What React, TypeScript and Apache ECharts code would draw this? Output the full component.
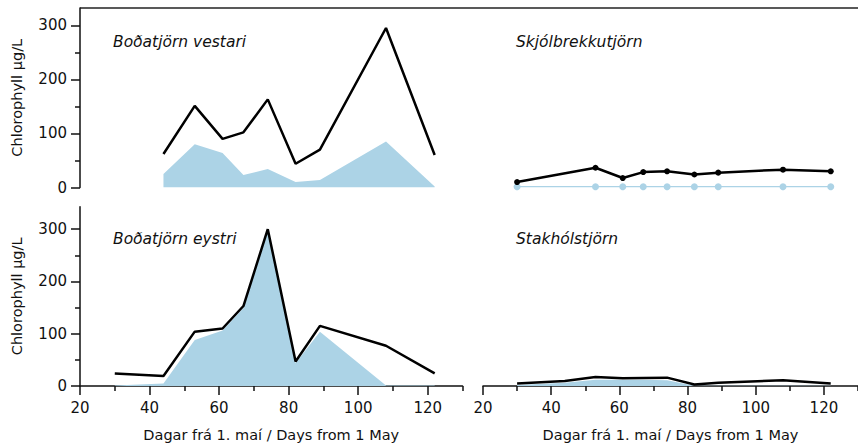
import React, { useEffect, useRef } from "react";
import * as echarts from "echarts";

// Sampling days (days from 1 May)
const allDays = [30, 44, 53, 61, 67, 74, 82, 89, 108, 122];
const vestariDays = [44, 53, 61, 67, 74, 82, 89, 108, 122];
const skjolDays = [30, 53, 61, 67, 74, 82, 89, 108, 122];

// Boðatjörn vestari
const vestariTotal = [62, 151, 90, 102, 163, 44, 70, 295, 60];
const vestariBlue = [25, 80, 64, 23, 34, 10, 14, 85, 2];
// Skjólbrekkutjörn
const skjolTotal = [10, 36.5, 17.5, 28.5, 30, 24, 27.5, 33, 30];
const skjolBlue = [1.5, 1.5, 1.5, 1.5, 1.5, 1.5, 1.5, 1.5, 1.5];
// Boðatjörn eystri
const eystriTotal = [24, 19, 104, 110, 153, 300, 47, 115, 77, 24];
const eystriBlue = [1, 5, 88, 106, 149, 296, 44, 104, 1, 1];
// Stakhólstjörn
const stakTotal = [5, 9.5, 17, 15, 15.5, 16, 3, 6, 11, 5];
const stakBlue = [2, 6, 12, 12, 12, 11, 0.5, 0.5, 0.5, 0.5];

const xMajorTicks = [20, 40, 60, 80, 100, 120];
const xMinorTicks = [30, 50, 70, 90, 110, 130];
const yMajorTicks = [0, 100, 200, 300];
const yMinorTicks = [50, 150, 250];

const titles = ["Boðatjörn vestari", "Skjólbrekkutjörn", "Boðatjörn eystri", "Stakhólstjörn"];
const yName = "Chlorophyll µg/L";
const xName = "Dagar frá 1. maí / Days from 1 May";

const FONT = "DejaVu Sans";
const BLUE = "#acd3e6";
const INK = "#111";

const zip = (xs: number[], ys: number[]) => xs.map((x, i) => [x, ys[i]]);

export default function App() {
  const ref = useRef<HTMLDivElement>(null);
  useEffect(() => {
    if (!ref.current) return;
    const chart = echarts.init(ref.current, null, { renderer: "svg" });

    const grids = [
      { left: 80, top: 8, width: 382.5, height: 179.5 },
      { left: 483, top: 8, width: 382.5, height: 179.5 },
      { left: 80, top: 206.7, width: 382.5, height: 179.3 },
      { left: 483, top: 206.7, width: 382.5, height: 179.3 },
    ];

    const hiddenX = (g: number) => ({
      gridIndex: g, type: "value", min: 20, max: 130, show: false,
    });
    const majorX = (g: number) => ({
      gridIndex: g, type: "value", min: 20, max: 130, position: "bottom",
      axisLine: { show: true, onZero: false, lineStyle: { color: INK, width: 1.5 } },
      axisTick: { show: true, customValues: xMajorTicks, length: 9, lineStyle: { color: INK, width: 1.5 } },
      axisLabel: { show: true, customValues: xMajorTicks, margin: 14, fontSize: 15, fontFamily: FONT, color: INK },
      splitLine: { show: false },
      name: xName, nameLocation: "middle", nameGap: 41,
      nameTextStyle: { fontSize: 14.5, fontFamily: FONT, color: INK },
    });
    const minorX = (g: number) => ({
      gridIndex: g, type: "value", min: 20, max: 130, position: "bottom",
      axisLine: { show: false },
      axisTick: { show: true, customValues: xMinorTicks, length: 5, lineStyle: { color: INK, width: 1.5 } },
      axisLabel: { show: false },
      splitLine: { show: false },
    });
    const majorY = (g: number, max: number) => ({
      gridIndex: g, type: "value", min: 0, max, position: "left",
      axisLine: { show: true, onZero: false, lineStyle: { color: INK, width: 1.5 } },
      axisTick: { show: true, customValues: yMajorTicks, length: 9, lineStyle: { color: INK, width: 1.5 } },
      axisLabel: { show: true, customValues: yMajorTicks, margin: 13, fontSize: 15, fontFamily: FONT, color: INK },
      splitLine: { show: false },
      name: yName, nameLocation: "middle", nameGap: 56,
      nameTextStyle: { fontSize: 14.5, fontFamily: FONT, color: INK },
    });
    const minorY = (g: number, max: number) => ({
      gridIndex: g, type: "value", min: 0, max, position: "left",
      axisLine: { show: false },
      axisTick: { show: true, customValues: yMinorTicks, length: 5, lineStyle: { color: INK, width: 1.5 } },
      axisLabel: { show: false },
      splitLine: { show: false },
    });
    const hiddenY = (g: number, max: number) => ({
      gridIndex: g, type: "value", min: 0, max, show: false, splitLine: { show: false },
    });

    const area = (idx: number, data: number[][]) => ({
      type: "line", xAxisIndex: idx, yAxisIndex: idx, data,
      symbol: "none", lineStyle: { width: 0, color: BLUE },
      areaStyle: { color: BLUE, opacity: 1 }, z: 1,
    });
    const blackLine = (idx: number, data: number[][], dots = false) => ({
      type: "line", xAxisIndex: idx, yAxisIndex: idx, data,
      symbol: dots ? "circle" : "none", symbolSize: 6, showSymbol: dots,
      itemStyle: { color: "#000" },
      lineStyle: { width: 2.5, color: "#000" }, z: 3,
    });

    const titleStyle = { fontStyle: "italic", fontWeight: "normal", fontSize: 15.5, fontFamily: FONT, color: INK };

    chart.setOption({
      animation: false,
      grid: grids,
      title: [
        { text: titles[0], left: 113, top: 34, padding: 0, textStyle: titleStyle },
        { text: titles[1], left: 516, top: 34, padding: 0, textStyle: titleStyle },
        { text: titles[2], left: 113, top: 231, padding: 0, textStyle: titleStyle },
        { text: titles[3], left: 516, top: 231, padding: 0, textStyle: titleStyle },
      ],
      xAxis: [hiddenX(0), hiddenX(1), majorX(2), majorX(3), minorX(2), minorX(3)],
      yAxis: [
        majorY(0, 332), hiddenY(1, 332), majorY(2, 343), hiddenY(3, 343),
        minorY(0, 332), minorY(2, 343),
      ],
      graphic: [
        { type: "line", shape: { x1: 80, y1: 8, x2: 858, y2: 8 }, style: { stroke: "#222", lineWidth: 1.5 } },
      ],
      series: [
        area(0, zip(vestariDays, vestariBlue)),
        blackLine(0, zip(vestariDays, vestariTotal)),
        {
          type: "line", xAxisIndex: 1, yAxisIndex: 1, data: zip(skjolDays, skjolBlue),
          symbol: "circle", symbolSize: 7, itemStyle: { color: BLUE },
          lineStyle: { width: 1.2, color: BLUE }, z: 2,
        },
        blackLine(1, zip(skjolDays, skjolTotal), true),
        area(2, zip(allDays, eystriBlue)),
        blackLine(2, zip(allDays, eystriTotal)),
        area(3, zip(allDays, stakBlue)),
        blackLine(3, zip(allDays, stakTotal)),
      ],
    });
    return () => chart.dispose();
  }, []);

  return (
    <div
      ref={ref}
      style={{ position: "absolute", left: 0, top: 0, width: 858, height: 445, background: "#fff" }}
    />
  );
}
